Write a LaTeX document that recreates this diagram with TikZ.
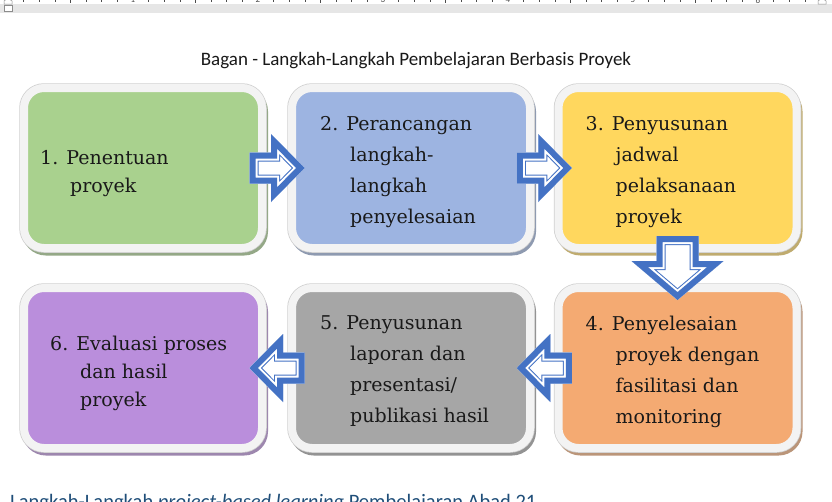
\documentclass[tikz,border=0pt]{standalone}
\usepackage{fontspec}
\newfontfamily\boxfont{DejaVu Serif}
\newfontfamily\calfont{Carlito}
\usetikzlibrary{calc}
\definecolor{cgreen}{HTML}{A9D18E}
\definecolor{cblue}{HTML}{9DB4E1}
\definecolor{cyellow}{HTML}{FFD75E}
\definecolor{corange}{HTML}{F4AA72}
\definecolor{cgray}{HTML}{A6A6A6}
\definecolor{cpurple}{HTML}{BA8EDC}
\definecolor{arrblue}{HTML}{4472C4}
\definecolor{framecol}{HTML}{F3F3F3}
\definecolor{frameedge}{HTML}{D0D0D0}
\definecolor{rulergray}{HTML}{E6E6E6}
\definecolor{capcol}{HTML}{1F4E79}
\tikzset{
  stepbox/.style={rectangle, rounded corners=20pt, minimum width=238pt, minimum height=160pt,
    inner sep=0pt, outer sep=0pt, fill=#1, draw=framecol, line width=8pt,
    preaction={fill=#1!50!gray, draw=#1!50!gray, line width=8pt,
      transform canvas={shift={(2pt,-3.5pt)}}},
    preaction={draw=frameedge, line width=9.5pt}},
  steptext/.style={anchor=west, align=left, inner sep=0pt, text=black!90},
  fourline/.style={font=\boxfont\fontsize{19}{31}\selectfont},
  twoline/.style={font=\boxfont\fontsize{19}{28}\selectfont},
}
% #1 from, #2 to, #3 rotation, #4 half length, #5 head base, #6 shaft half, #7 head half
\newcommand\blockarr[7]{%
  \begin{scope}[shift={($#1!0.5!#2$)}, rotate=#3]
    \path[save path=\arrp] (-#4,-#6) -- (#5,-#6) -- (#5,-#7) -- (#4,0) -- (#5,#7) -- (#5,#6) -- (-#4,#6) -- cycle;
    \begin{scope}
      \clip[use path=\arrp];
      \fill[white, use path=\arrp];
      \draw[arrblue, line width=18pt, miter limit=20, line join=miter, use path=\arrp];
      \draw[white, line width=16pt, miter limit=20, line join=miter, use path=\arrp];
      \draw[arrblue, line width=12pt, miter limit=20, line join=miter, use path=\arrp];
    \end{scope}
  \end{scope}}
\begin{document}
\begin{tikzpicture}[x=1pt, y=-1pt]
\useasboundingbox (0,0) rectangle (832,501);
\fill[white] (0,0) rectangle (832,501);
% ruler
\fill[rulergray] (0,3.5) rectangle (832,13);
\foreach \k in {1,...,52}{
  \pgfmathsetmacro{\rx}{8+\k*15.625}
  \pgfmathtruncatemacro{\rm}{mod(\k,8)}
  \ifnum\rm=0
  \else
    \ifnum\rm=4
      \draw[black!70, line width=0.6pt] (\rx,0) -- (\rx,3);
    \else
      \draw[black!70, line width=0.6pt] (\rx,0) -- (\rx,1.8);
    \fi
  \fi
}
\foreach \k in {1,...,6}{
  \node[font=\calfont\fontsize{9}{9}\selectfont, text=black!70, inner sep=0pt] (rn\k) at (8+125*\k,0) {\k};
}
\draw[black!45, fill=white, line width=0.5pt] (4,4) -- (4,1) -- (8,-2) -- (12,1) -- (12,4) -- cycle;
\draw[black!45, fill=white, line width=0.5pt] (4,5) rectangle (12,11);
\draw[black!45, fill=white, line width=0.5pt] (818,4) -- (818,1) -- (822,-2) -- (826,1) -- (826,4) -- cycle;
% title
\node[font=\calfont\fontsize{19}{22}\selectfont, anchor=base, text=black!90] (title) at (416,65)
  {Bagan - Langkah-Langkah Pembelajaran Berbasis Proyek};
% boxes
\node[stepbox=cgreen] (b1) at (143,168) {};
\node[stepbox=cblue] (b2) at (411,168) {};
\node[stepbox=cyellow] (b3) at (677.5,168) {};
\node[stepbox=corange] (b4) at (677.5,368) {};
\node[stepbox=cgray] (b5) at (411,368) {};
\node[stepbox=cpurple] (b6) at (143,368) {};
% texts
\node[steptext, twoline] (t1) at ($(b1.west)+(16,5.5)$) {1. Penentuan\\\hspace*{30pt}proyek};
\node[steptext, fourline] (t2) at ($(b2.west)+(28,4.5)$) {2. Perancangan\\\hspace*{30pt}langkah-\\\hspace*{30pt}langkah\\\hspace*{30pt}penyelesaian};
\node[steptext, fourline] (t3) at ($(b3.west)+(27,4.5)$) {3. Penyusunan\\\hspace*{30pt}jadwal\\\hspace*{30pt}pelaksanaan\\\hspace*{30pt}proyek};
\node[steptext, fourline] (t4) at ($(b4.west)+(27,3.5)$) {4. Penyelesaian\\\hspace*{30pt}proyek dengan\\\hspace*{30pt}fasilitasi dan\\\hspace*{30pt}monitoring};
\node[steptext, fourline] (t5) at ($(b5.west)+(28,3.5)$) {5. Penyusunan\\\hspace*{30pt}laporan dan\\\hspace*{30pt}presentasi/\\\hspace*{30pt}publikasi hasil};
\node[steptext, twoline] (t6) at ($(b6.west)+(26,5)$) {6. Evaluasi proses\\\hspace*{30pt}dan hasil\\\hspace*{30pt}proyek};
% arrows
\blockarr{(b1.east)}{(b2.west)}{0}{27.5}{-6}{15.5}{34}
\blockarr{(b2.east)}{(b3.west)}{0}{27.5}{-6}{15.5}{34}
\blockarr{(b3.south)}{(b4.north)}{-90}{32}{-7}{21}{46}
\blockarr{(b4.west)}{(b5.east)}{180}{27.5}{-6}{15.5}{34}
\blockarr{(b5.west)}{(b6.east)}{180}{27.5}{-6}{15.5}{34}
% caption (cut off at the bottom, as in the reference)
\node[font=\calfont\fontsize{20.5}{24}\selectfont, anchor=base west, text=capcol, inner sep=0pt] (cap) at (10,508)
  {Langkah-Langkah \textit{project-based learning} Pembelajaran Abad 21};
\end{tikzpicture}
\end{document}
